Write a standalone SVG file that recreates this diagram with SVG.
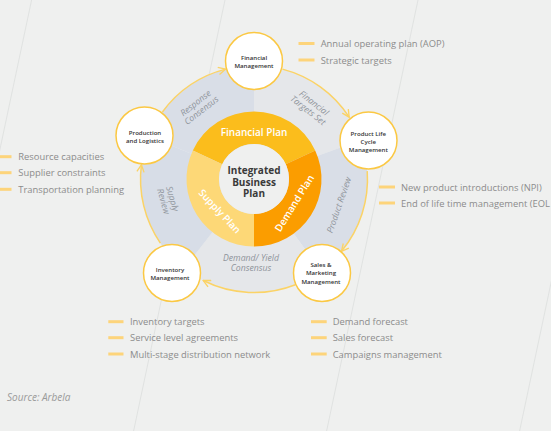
<svg xmlns="http://www.w3.org/2000/svg" width="551" height="431" viewBox="0 0 551 431">
<defs>
<style>
.bgl{stroke:#dcdedd;stroke-width:0.8;fill:none}
.node circle{fill:#ffffff;stroke:#fbc843;stroke-width:1.5}
.nt{font-family:"Open Sans","Noto Sans",sans-serif;font-size:6.1px;font-weight:600;fill:#333333;text-anchor:middle;dominant-baseline:central}
.sl{font-family:"Open Sans","Noto Sans",sans-serif;font-size:8.7px;font-style:italic;fill:#8f949b;text-anchor:middle;dominant-baseline:central}
.pl{font-family:"Open Sans","Noto Sans",sans-serif;font-size:10px;font-weight:600;fill:#ffffff;text-anchor:middle;dominant-baseline:central}
.ct{font-family:"Open Sans","Noto Sans",sans-serif;font-size:10px;font-weight:700;fill:#3a3a3a;text-anchor:middle;dominant-baseline:central}
.it{font-family:"Open Sans","Noto Sans",sans-serif;font-size:9.4px;fill:#8c8c8c;dominant-baseline:central}
.dash{stroke:#fdd47a;stroke-width:3;fill:none}
.arc{stroke:#fbd366;stroke-width:1.5;fill:none;marker-end:url(#ah)}
.sb{fill:#d9dee7}
.sg{fill:#e5e7ea}
</style>
<marker id="ah" viewBox="0 0 10 10" refX="9" refY="5" markerWidth="9" markerHeight="9" markerUnits="userSpaceOnUse" orient="auto">
<path d="M1,1 L9,5 L1,9" fill="none" stroke="#fbd366" stroke-width="1.5"/>
</marker>
</defs>
<rect width="551" height="431" fill="#eff0ef"/>
<g id="bglines">
<line class="bgl" x1="31.6" y1="0" x2="-59.8" y2="431"/>
<line class="bgl" x1="225" y1="0" x2="133.6" y2="431"/>
<line class="bgl" x1="418" y1="0" x2="326.6" y2="431"/>
<line class="bgl" x1="611" y1="0" x2="519.6" y2="431"/>
</g>
<g id="sectors">
<path class="sb" d="M254,179 L148.76,136.48 A113.5,113.5 0 0 1 254,65.5 Z"/>
<path class="sg" d="M254,179 L254,65.5 A113.5,113.5 0 0 1 360.65,140.18 Z"/>
<path class="sb" d="M254,179 L360.65,140.18 A113.5,113.5 0 0 1 320.72,270.82 Z"/>
<path class="sg" d="M254,179 L320.72,270.82 A113.5,113.5 0 0 1 184.12,268.44 Z"/>
<path class="sb" d="M254,179 L184.12,268.44 A113.5,113.5 0 0 1 148.76,136.48 Z" style="fill:#d7dde7"/>
<text class="sl" transform="translate(198.5,106.7) rotate(-38)"><tspan x="0" y="-4.7">Response</tspan><tspan x="0" y="4.7">Consensus</tspan></text>
<text class="sl" transform="translate(311,106.7) rotate(38)"><tspan x="0" y="-4.7">Financial</tspan><tspan x="0" y="4.7">Targets Set</tspan></text>
<text class="sl" transform="translate(339,205) rotate(-71)">Product Review</text>
<text class="sl" transform="translate(168,200) rotate(74)"><tspan x="0" y="-4.7">Supply</tspan><tspan x="0" y="4.7">Review</tspan></text>
<text class="sl"><tspan x="251" y="258.3">Demand/ Yield</tspan><tspan x="251" y="268.3">Consensus</tspan></text>
</g>
<g id="donut">
<path d="M192.82,150.47 A67.5,67.5 0 0 1 315.18,150.47 L285.72,164.21 A35,35 0 0 0 222.28,164.21 Z" fill="#fbbd1c"/>
<path d="M315.18,150.47 A67.5,67.5 0 0 1 254,246.5 L254,214 A35,35 0 0 0 285.72,164.21 Z" fill="#fb9d00"/>
<path d="M254,246.5 A67.5,67.5 0 0 1 192.82,150.47 L222.28,164.21 A35,35 0 0 0 254,214 Z" fill="#fdd877"/>
<circle cx="254" cy="179" r="35" fill="#eff0ef"/>
<text class="pl" x="254" y="132">Financial Plan</text>
<text class="pl" transform="translate(294,203) rotate(-58)">Demand Plan</text>
<text class="pl" transform="translate(220,211) rotate(47)">Supply Plan</text>
<text class="ct"><tspan x="254" y="170">Integrated</tspan><tspan x="254" y="181.7">Business</tspan><tspan x="254" y="193.4">Plan</tspan></text>
</g>
<g id="connectors">
<path class="arc" d="M162.41,111.97 A113.5,113.5 0 0 1 225.58,69.12"/>
<path class="arc" d="M282.42,69.12 A113.5,113.5 0 0 1 349.19,117.19"/>
<path class="arc" d="M367.22,171.08 A113.5,113.5 0 0 1 341.45,251.34"/>
<path class="arc" d="M295.42,284.68 A113.5,113.5 0 0 1 203.19,280.49"/>
<path class="arc" d="M160.35,243.13 A113.5,113.5 0 0 1 141.40,164.78"/>
</g>
<g id="financial" class="node">
<circle cx="254" cy="61" r="28.5"/>
<text class="nt"><tspan x="254" y="56.5">Financial</tspan><tspan x="254" y="64.5">Management</tspan></text>
</g>
<g id="production" class="node">
<circle cx="144.5" cy="135.5" r="28.5"/>
<text class="nt"><tspan x="145" y="132.3">Production</tspan><tspan x="145" y="140.3">and Logistics</tspan></text>
</g>
<g id="plc" class="node">
<circle cx="368.5" cy="140.5" r="28.5"/>
<text class="nt"><tspan x="368.3" y="133.3">Product Life</tspan><tspan x="368.3" y="141.3">Cycle</tspan><tspan x="368.3" y="149.3">Management</tspan></text>
</g>
<g id="inventory" class="node">
<circle cx="172" cy="273" r="28.5"/>
<text class="nt"><tspan x="170" y="269">Inventory</tspan><tspan x="170" y="277">Management</tspan></text>
</g>
<g id="sales" class="node">
<circle cx="322" cy="273" r="28.5"/>
<text class="nt"><tspan x="321" y="264.2">Sales &amp;</tspan><tspan x="321" y="272.4">Marketing</tspan><tspan x="321" y="280.6">Management</tspan></text>
</g>
<g id="list-top">
<line class="dash" x1="298.5" y1="43.5" x2="314.5" y2="43.5"/>
<line class="dash" x1="298.5" y1="60" x2="314.5" y2="60"/>
<text class="it" x="320.7" y="43.5">Annual operating plan (AOP)</text>
<text class="it" x="320.7" y="60">Strategic targets</text>
</g>
<g id="list-left">
<line class="dash" x1="0" y1="156.7" x2="11.5" y2="156.7"/>
<line class="dash" x1="0" y1="172.7" x2="11.5" y2="172.7"/>
<line class="dash" x1="0" y1="189.3" x2="11.5" y2="189.3"/>
<text class="it" x="18.3" y="156.7">Resource capacities</text>
<text class="it" x="18.3" y="172.7">Supplier constraints</text>
<text class="it" x="18.3" y="189.3">Transportation planning</text>
</g>
<g id="list-right">
<line class="dash" x1="379" y1="187" x2="395" y2="187"/>
<line class="dash" x1="379" y1="203" x2="395" y2="203"/>
<text class="it" x="401" y="187">New product introductions (NPI)</text>
<text class="it" x="401" y="203">End of life time management (EOL</text>
</g>
<g id="list-bl">
<line class="dash" x1="108.3" y1="321.7" x2="123.5" y2="321.7"/>
<line class="dash" x1="108.3" y1="337.7" x2="123.5" y2="337.7"/>
<line class="dash" x1="108.3" y1="354" x2="123.5" y2="354"/>
<text class="it" x="130" y="321.7">Inventory targets</text>
<text class="it" x="130" y="337.7">Service level agreements</text>
<text class="it" x="130" y="354">Multi-stage distribution network</text>
</g>
<g id="list-br">
<line class="dash" x1="311" y1="321.7" x2="326.7" y2="321.7"/>
<line class="dash" x1="311" y1="337.7" x2="326.7" y2="337.7"/>
<line class="dash" x1="311" y1="354" x2="326.7" y2="354"/>
<text class="it" x="332.7" y="321.7">Demand forecast</text>
<text class="it" x="332.7" y="337.7">Sales forecast</text>
<text class="it" x="332.7" y="354">Campaigns management</text>
</g>
<text x="7" y="397.3" font-family="Open Sans, Noto Sans, sans-serif" font-size="10" font-style="italic" fill="#9a9a9a" dominant-baseline="central">Source: Arbela</text>
</svg>
